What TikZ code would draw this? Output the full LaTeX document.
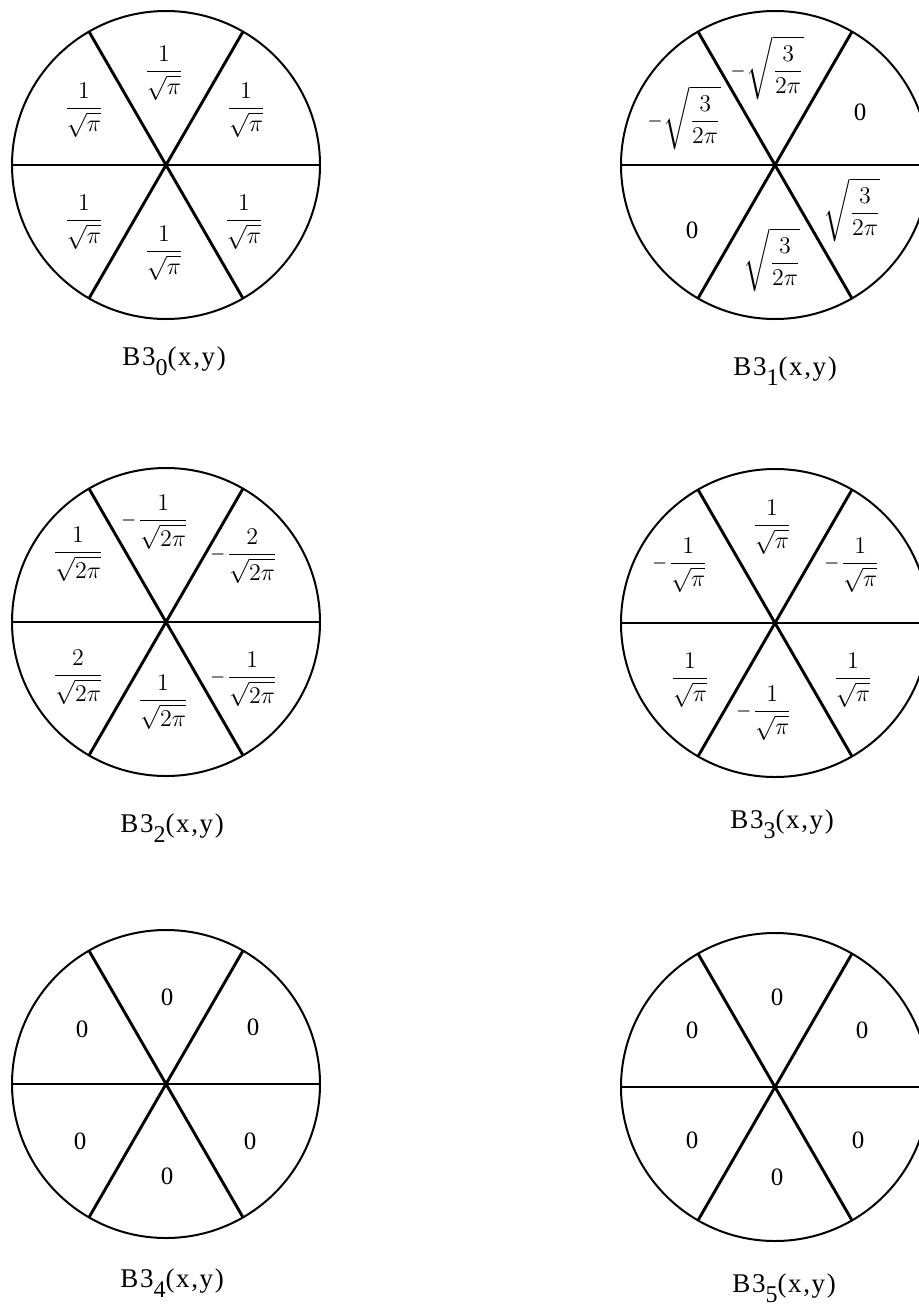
\documentclass[tikz,border=0pt]{standalone}
\usepackage{amsmath, amssymb}
\usepackage{graphicx}
\usepackage{fontspec}
\setmainfont{Liberation Serif}

% rovid minuszjel a tortek elott
\newcommand{\kmin}{\mathord{\scalebox{0.8}[1]{$-$}}\mskip1mu}
% alsoindex a feliratokhoz
\newcommand{\als}[1]{\raisebox{-5pt}{\fontsize{12}{14}\selectfont #1}}

\begin{document}
\begin{tikzpicture}[x=0.5pt,y=-0.5pt,
    kor/.style={line width=1pt},
    kullo/.style={line width=1.45pt},
    ertek/.style={font=\fontsize{13}{15}\selectfont, inner sep=0.5pt},
    nulla/.style={font=\fontsize{12.5}{15}\selectfont, inner sep=0.5pt},
    felirat/.style={font=\fontsize{13.5}{16}\selectfont\addfontfeature{LetterSpace=6},
      anchor=base west, inner sep=0pt}]
\useasboundingbox (0,0) rectangle (919,1306);
\clip (0,0) rectangle (919,1306);

% B3_0
\begin{scope}[shift={(166,165)}]
  \draw[kor] (0,0) circle (154);
  \draw[kor] (-154,0) -- (154,0);
  \foreach \s in {60,120} \draw[kullo] (\s:154) -- (\s+180:154);
  \node[ertek] (b0a) at (-2,-92) {$\dfrac{1}{\sqrt{\pi}}$};
  \node[ertek] (b0b) at (-82,-55) {$\dfrac{1}{\sqrt{\pi}}$};
  \node[ertek] (b0c) at (80,-55) {$\dfrac{1}{\sqrt{\pi}}$};
  \node[ertek] (b0d) at (-82,57) {$\dfrac{1}{\sqrt{\pi}}$};
  \node[ertek] (b0e) at (78,57) {$\dfrac{1}{\sqrt{\pi}}$};
  \node[ertek] (b0f) at (-2,88) {$\dfrac{1}{\sqrt{\pi}}$};
\end{scope}
\node[felirat] (b0cim) at (122,365) {B3\als{0}(x,y)};

% B3_1
\begin{scope}[shift={(775,165)}]
  \draw[kor] (0,0) circle (154);
  \draw[kor] (-154,0) -- (154,0);
  \foreach \s in {60,120} \draw[kullo] (\s:154) -- (\s+180:154);
  \node[ertek] (b1a) at (-8,-97) {$\kmin\sqrt{\dfrac{3}{2\pi}}$};
  \node[ertek] (b1b) at (-91,-47) {$\kmin\sqrt{\dfrac{3}{2\pi}}$};
  \node[nulla] (b1c) at (85,-53) {0};
  \node[nulla] (b1d) at (-83,65) {0};
  \node[ertek] (b1e) at (77,45) {$\sqrt{\dfrac{3}{2\pi}}$};
  \node[ertek] (b1f) at (-3,95) {$\sqrt{\dfrac{3}{2\pi}}$};
\end{scope}
\node[felirat] (b1cim) at (733,375) {B3\als{1}(x,y)};

% B3_2
\begin{scope}[shift={(166,622)}]
  \draw[kor] (0,0) circle (154);
  \draw[kor] (-154,0) -- (154,0);
  \foreach \s in {60,120} \draw[kullo] (\s:154) -- (\s+180:154);
  \node[ertek] (b2a) at (-11,-100) {$\kmin\dfrac{1}{\sqrt{2\pi}}$};
  \node[ertek] (b2b) at (-88,-68) {$\dfrac{1}{\sqrt{2\pi}}$};
  \node[ertek] (b2c) at (78,-66) {$\kmin\dfrac{2}{\sqrt{2\pi}}$};
  \node[ertek] (b2d) at (-88,55) {$\dfrac{2}{\sqrt{2\pi}}$};
  \node[ertek] (b2e) at (78,57) {$\kmin\dfrac{1}{\sqrt{2\pi}}$};
  \node[ertek] (b2f) at (-3,80) {$\dfrac{1}{\sqrt{2\pi}}$};
\end{scope}
\node[felirat] (b2cim) at (120,832) {B3\als{2}(x,y)};

% B3_3
\begin{scope}[shift={(775,623)}]
  \draw[kor] (0,0) circle (154);
  \draw[kor] (-154,0) -- (154,0);
  \foreach \s in {60,120} \draw[kullo] (\s:154) -- (\s+180:154);
  \node[ertek] (b3a) at (-3,-96) {$\dfrac{1}{\sqrt{\pi}}$};
  \node[ertek] (b3b) at (-95,-58) {$\kmin\dfrac{1}{\sqrt{\pi}}$};
  \node[ertek] (b3c) at (77,-58) {$\kmin\dfrac{1}{\sqrt{\pi}}$};
  \node[ertek] (b3d) at (-85,57) {$\dfrac{1}{\sqrt{\pi}}$};
  \node[ertek] (b3e) at (78,57) {$\dfrac{1}{\sqrt{\pi}}$};
  \node[ertek] (b3f) at (-11,90) {$\kmin\dfrac{1}{\sqrt{\pi}}$};
\end{scope}
\node[felirat] (b3cim) at (730,828) {B3\als{3}(x,y)};

% B3_4
\begin{scope}[shift={(166,1084)}]
  \draw[kor] (0,0) circle (154);
  \draw[kor] (-154,0) -- (154,0);
  \foreach \s in {60,120} \draw[kullo] (\s:154) -- (\s+180:154);
  \node[nulla] (b4a) at (1,-87) {0};
  \node[nulla] (b4b) at (-84,-55) {0};
  \node[nulla] (b4c) at (87,-57) {0};
  \node[nulla] (b4d) at (-86,57) {0};
  \node[nulla] (b4e) at (84,57) {0};
  \node[nulla] (b4f) at (1,92) {0};
\end{scope}
\node[felirat] (b4cim) at (120,1287) {B3\als{4}(x,y)};

% B3_5
\begin{scope}[shift={(775,1087)}]
  \draw[kor] (0,0) circle (154);
  \draw[kor] (-154,0) -- (154,0);
  \foreach \s in {60,120} \draw[kullo] (\s:154) -- (\s+180:154);
  \node[nulla] (b5a) at (2,-90) {0};
  \node[nulla] (b5b) at (-83,-57) {0};
  \node[nulla] (b5c) at (87,-57) {0};
  \node[nulla] (b5d) at (-83,53) {0};
  \node[nulla] (b5e) at (83,53) {0};
  \node[nulla] (b5f) at (2,90) {0};
\end{scope}
\node[felirat] (b5cim) at (732,1292) {B3\als{5}(x,y)};

\end{tikzpicture}
\end{document}
